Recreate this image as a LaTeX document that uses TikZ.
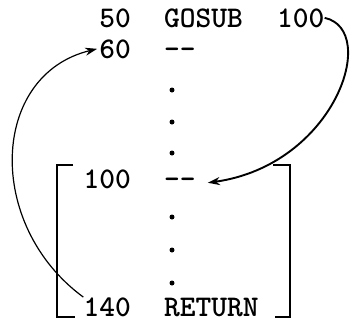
\documentclass[tikz,border=0pt]{standalone}
\usepackage{tikz}
\usetikzlibrary{arrows.meta, positioning, calc}
\tikzset{
	codeline/.style ={inner sep=0pt, font=\fontsize{30}{32}\selectfont\ttfamily\bfseries},
	lineno/.style   ={codeline, anchor=base east},
	stmt/.style     ={codeline, anchor=base west},
	dotmark/.style  ={circle, fill=black, inner sep=0pt, minimum size=5pt},
	bracket/.style  ={line width=1.9pt},
	% jump arrows
	callarrow/.style={-{Stealth[length=12pt, width=8pt]}, line width=1.9pt},
	retarrow/.style ={-{Stealth[length=12pt, width=8pt]}, line width=1.2pt},
}

\begin{document}
\begin{tikzpicture}[x=1pt, y=-1pt]
	\useasboundingbox (0,0) rectangle (357,322);
	% program lines
	\node[lineno] (n50) at (131,27) {50};
	\node[stmt] (gosub) at (164,27) {GOSUB};
	\node[stmt] (target) at (277,27) {100};
	\node[lineno] (n60) at (131,58) {60};
	\node[stmt] (dash60) at (164,58) {-{}-};
	\node[lineno] (n100) at (131,188) {100};
	\node[stmt] (dash100) at (164,188) {-{}-};
	\node[lineno] (n140) at (131,316) {140};
	\node[stmt] (ret) at (164,316) {RETURN};
	% continuation dots
	\foreach \name/\y in {da/90, db/122, dc/153, dd/217, de/250, df/283}
		\node[dotmark] (\name) at (172,\y) {};
	% subroutine brackets
	\draw[bracket] (73,165) -- (57,165) -- (57,317) -- (75,317);
	\draw[bracket] (273,165) -- (290,165) -- (290,317) -- (275,317);
	% jumps
	\draw[callarrow] (target.east) .. controls (380,30) and (335,165) .. ([xshift=12pt]dash100.east);
	\draw[retarrow] (n140.north west) .. controls (-15,225) and (-10,75) .. ([xshift=-2pt]n60.west);
\end{tikzpicture}
\end{document}
